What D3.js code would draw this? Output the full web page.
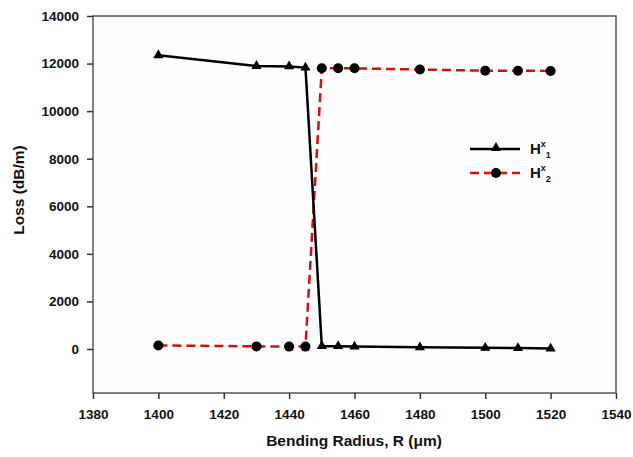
<!DOCTYPE html>
<html><head><meta charset="utf-8">
<script src="https://cdn.jsdelivr.net/npm/d3@7"></script>
<style>body{margin:0;background:#fff;}text{font-family:"Liberation Sans",Arial,sans-serif;}</style>
</head><body><svg id="c" width="633" height="457"></svg>
<script>
const radius = [1400, 1430, 1440, 1445, 1450, 1455, 1460, 1480, 1500, 1510, 1520];
const lossH1 = [12350, 11900, 11880, 11830, 120, 120, 100, 70, 50, 40, 20];
const lossH2 = [150, 110, 100, 100, 11800, 11800, 11800, 11750, 11700, 11700, 11690];
const xTicks = [1380, 1400, 1420, 1440, 1460, 1480, 1500, 1520, 1540];
const yTicks = [0, 2000, 4000, 6000, 8000, 10000, 12000, 14000];

const svg = d3.select("#c");
const L = 93, R = 616, T = 16, B = 393;
const x = d3.scaleLinear().domain([1380, 1540]).range([L, R]);
const y = d3.scaleLinear().domain([-1850, 14000]).range([B, T]);

svg.append("rect").attr("x", L).attr("y", T).attr("width", R - L).attr("height", B - T)
  .attr("fill", "#fdfdfd").attr("stroke", "#555").attr("stroke-width", 1.5);

const xa = svg.append("g").attr("transform", `translate(0,${B})`)
  .call(d3.axisBottom(x).tickValues(xTicks).tickFormat(d3.format("d")).tickSize(6).tickPadding(10));
const ya = svg.append("g").attr("transform", `translate(${L},0)`)
  .call(d3.axisLeft(y).tickValues(yTicks).tickFormat(d3.format("d")).tickSize(6).tickPadding(8));
[xa, ya].forEach(a => {
  a.select(".domain").remove();
  a.selectAll("line").attr("stroke", "#333").attr("stroke-width", 1.5);
  a.selectAll("text").attr("font-size", 13.5).attr("font-weight", "bold").attr("fill", "#111");
});
const data1 = radius.map((r, i) => [r, lossH1[i]]);
const data2 = radius.map((r, i) => [r, lossH2[i]]);
const line = d3.line().x(d => x(d[0])).y(d => y(d[1]));

svg.append("path").datum(data2).attr("d", line).attr("fill", "none")
  .attr("stroke", "#d01010").attr("stroke-width", 2.5).attr("stroke-dasharray", "9,5");
svg.append("path").datum(data1).attr("d", line).attr("fill", "none")
  .attr("stroke", "#000").attr("stroke-width", 2.5);

const tri = d3.symbol().type(d3.symbolTriangle).size(45);
svg.selectAll(".t").data(data1).join("path").attr("class", "t")
  .attr("d", tri).attr("transform", d => `translate(${x(d[0])},${y(d[1])})`).attr("fill", "#000");
svg.selectAll(".c").data(data2).join("circle").attr("class", "c")
  .attr("cx", d => x(d[0])).attr("cy", d => y(d[1])).attr("r", 5).attr("fill", "#000");

// legend
const lg = svg.append("g");
lg.append("line").attr("x1", 470).attr("x2", 520).attr("y1", 149).attr("y2", 149).attr("stroke", "#000").attr("stroke-width", 2.5);
lg.append("path").attr("d", tri).attr("transform", "translate(496,148)").attr("fill", "#000");
lg.append("line").attr("x1", 470).attr("x2", 520).attr("y1", 173).attr("y2", 173).attr("stroke", "#d01010").attr("stroke-width", 2.5).attr("stroke-dasharray", "9,5");
lg.append("circle").attr("cx", 496).attr("cy", 173).attr("r", 5).attr("fill", "#000");
[["1", 149], ["2", 173]].forEach(([s, yy]) => {
  const t = lg.append("text").attr("x", 530).attr("y", yy + 5).attr("font-size", 15).attr("font-weight", "bold").attr("fill", "#111");
  t.append("tspan").text("H");
  t.append("tspan").text("x").attr("font-size", 9).attr("dy", -7);
  t.append("tspan").text(s).attr("font-size", 9).attr("dy", 11);
});

svg.append("text").attr("x", 354).attr("y", 446).attr("text-anchor", "middle")
  .attr("font-size", 15.5).attr("font-weight", "bold").attr("fill", "#111").text("Bending Radius, R (μm)");
svg.append("text").attr("transform", "translate(24,190) rotate(-90)").attr("text-anchor", "middle")
  .attr("font-size", 15.5).attr("font-weight", "bold").attr("fill", "#111").text("Loss (dB/m)");
</script></body></html>
